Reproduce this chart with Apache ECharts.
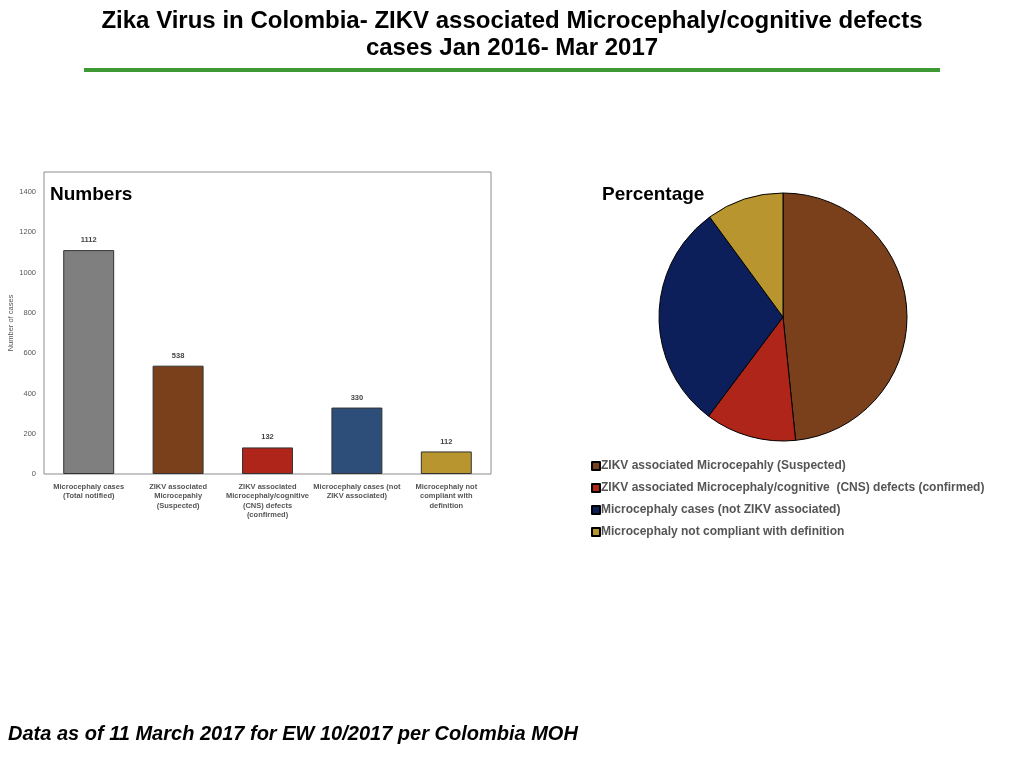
<!DOCTYPE html>
<html>
<head>
<meta charset="utf-8">
<script src="https://cdn.jsdelivr.net/npm/echarts@6/dist/echarts.min.js"></script>
<style>
  html, body { margin: 0; padding: 0; background: #fff; }
  #chart_one { width: 1024px; height: 768px; }
</style>
</head>
<body>
<div id="chart_one"></div>
<script>
var barCategories = [
  'Microcephaly cases\n(Total notified)',
  'ZIKV associated\nMicrocepahly\n(Suspected)',
  'ZIKV associated\nMicrocephaly/cognitive\n(CNS) defects\n(confirmed)',
  'Microcephaly cases (not\nZIKV associated)',
  'Microcephaly not\ncompliant with\ndefinition'
];
var barValues = [1112, 538, 132, 330, 112];
var barColors = ['#7f7f7f', '#7a3f1b', '#b0251a', '#2d4e78', '#b8952f'];

var pieNames = [
  'ZIKV associated Microcepahly (Suspected)',
  'ZIKV associated Microcephaly/cognitive  (CNS) defects (confirmed)',
  'Microcephaly cases (not ZIKV associated)',
  'Microcephaly not compliant with definition'
];
var pieValues = [538, 132, 330, 112];
var pieColors = ['#7a3f1b', '#b0251a', '#0c1f5a', '#b8952f'];

var yTicks = [0, 200, 400, 600, 800, 1000, 1200, 1400];

var theDom = document.getElementById('chart_one');
var myChart = echarts.init(theDom);
var option;

var barData = barValues.map(function (v, i) {
  return { value: v, itemStyle: { color: barColors[i] } };
});
var pieData = pieValues.map(function (v, i) {
  return { name: pieNames[i], value: v, itemStyle: { color: pieColors[i] } };
});

option = {
  animation: false,
  textStyle: { fontFamily: 'Liberation Sans, Arial, sans-serif' },
  title: [
    {
      text: 'Zika Virus in Colombia- ZIKV associated Microcephaly/cognitive defects\ncases Jan 2016- Mar 2017',
      left: 'center',
      top: 8,
      padding: 0,
      textStyle: {
        fontFamily: 'Liberation Sans Narrow, Arial Narrow, Liberation Sans, sans-serif',
        fontSize: 24, fontWeight: 'bold', color: '#000', lineHeight: 27
      }
    },
    {
      text: 'Numbers', left: 50, top: 185, padding: 0,
      textStyle: { fontSize: 19, fontWeight: 'bold', color: '#000' }
    },
    {
      text: 'Percentage', left: 602, top: 185, padding: 0,
      textStyle: { fontSize: 19, fontWeight: 'bold', color: '#000' }
    },
    {
      text: 'Data as of 11 March 2017 for EW 10/2017 per Colombia MOH',
      left: 8, top: 724, padding: 0,
      textStyle: { fontSize: 20, fontWeight: 'bold', fontStyle: 'italic', color: '#000' }
    }
  ],
  graphic: [
    {
      type: 'rect',
      shape: { x: 84, y: 68, width: 856, height: 4 },
      style: { fill: '#3f9a35' }
    }
  ],
  legend: {
    orient: 'vertical',
    left: 586,
    top: 455,
    itemWidth: 8,
    itemHeight: 8,
    itemGap: 10,
    icon: 'rect',
    selectedMode: false,
    textStyle: { fontSize: 12, fontWeight: 'bold', color: '#555', padding: [0, 0, 0, -4] },
    data: pieNames
  },
  grid: {
    left: 44, top: 172, width: 447, height: 302,
    show: true, borderColor: '#8c8c8c', borderWidth: 1, backgroundColor: 'transparent'
  },
  xAxis: {
    type: 'category',
    data: barCategories,
    axisLine: { show: false },
    axisTick: { show: false },
    axisLabel: {
      interval: 0, margin: 8, fontSize: 7.5, fontWeight: 'bold',
      color: '#555', lineHeight: 9.5
    }
  },
  yAxis: {
    type: 'value',
    min: 0, max: 1500, interval: 100,
    axisLine: { show: false },
    axisTick: { show: false },
    splitLine: { show: false },
    name: 'Number of cases',
    nameLocation: 'middle',
    nameGap: 28,
    nameTextStyle: { fontSize: 7.5, color: '#555' },
    axisLabel: {
      fontSize: 7.5, color: '#555', margin: 8,
      formatter: function (v) { return yTicks.indexOf(v) >= 0 ? v : ''; }
    }
  },
  series: [
    {
      type: 'bar',
      data: barData,
      barWidth: '57%',
      itemStyle: { borderColor: '#333', borderWidth: 1 },
      label: {
        show: true, position: 'top', distance: 6,
        fontSize: 7.5, fontWeight: 'bold', color: '#444'
      }
    },
    {
      type: 'pie',
      center: [783, 317],
      radius: 124,
      startAngle: 90,
      clockwise: true,
      data: pieData,
      label: { show: false },
      labelLine: { show: false },
      itemStyle: { borderColor: '#000', borderWidth: 1 }
    }
  ]
};

myChart.setOption(option);
window.onresize = function () {
  myChart.resize();
};
</script>
</body>
</html>
